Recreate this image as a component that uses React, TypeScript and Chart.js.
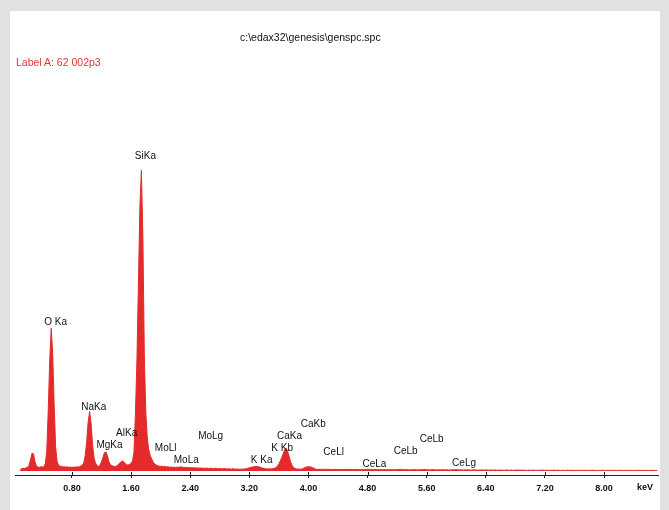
import React, { useEffect, useRef } from 'react';
import { Chart, registerables } from 'chart.js';

Chart.register(...registerables);

// Spectrum channels: uniform energy grid starting at CHANNEL_START_KEV
const CHANNEL_START_KEV = 0.1;
const CHANNEL_WIDTH_KEV = 0.02;

// Counts from 0.10 to 4.12 keV (rows of 0.2 keV)
const COUNTS_LOW = [
  8, 18, 22, 20, 26, 30, 48, 95, 150, 145,
  80, 42, 34, 30, 36, 33, 34, 60, 170, 520,
  950, 1215, 1000, 560, 200, 80, 48, 40, 38, 33,
  36, 31, 35, 30, 34, 29, 33, 30, 35, 32,
  36, 42, 48, 70, 130, 250, 420, 505, 400, 220,
  110, 65, 45, 38, 50, 75, 115, 155, 162, 130,
  80, 55, 45, 40, 38, 40, 50, 62, 75, 85,
  78, 62, 52, 50, 55, 62, 85, 160, 500, 950,
  1600, 2250, 2560, 2000, 980, 500, 280, 180, 130, 100,
  75, 60, 50, 45, 40, 38, 40, 36, 38, 33,
  35, 31, 34, 30, 33, 29, 32, 30, 34, 33,
  31, 28, 30, 27, 29, 26, 28, 25, 27, 24,
  26, 23, 25, 22, 24, 21, 24, 22, 20, 23,
  21, 19, 22, 20, 18, 21, 19, 17, 20, 18,
  16, 19, 17, 15, 18, 16, 14, 17, 15, 14,
  16, 15, 17, 19, 22, 26, 30, 33, 35, 37,
  38, 36, 33, 28, 24, 20, 18, 17, 16, 18,
  17, 19, 22, 28, 40, 60, 85, 115, 150, 180,
  193, 165, 120, 75, 45, 28, 20, 17, 15, 16,
  14, 18, 24, 30, 34, 36, 35, 32, 27, 20,
  15, 13,
];

// Counts from 4.14 to 8.72 keV (rows of 0.2 keV)
const COUNTS_HIGH = [
  13, 14, 12, 13, 15, 12, 14, 13, 11, 13,
  12, 14, 11, 13, 12, 10, 13, 12, 11, 14,
  12, 11, 13, 10, 12, 11, 13, 12, 10, 12,
  11, 13, 12, 14, 13, 12, 11, 10, 12, 11,
  10, 12, 11, 9, 12, 10, 11, 9, 12, 10,
  11, 9, 10, 12, 11, 13, 12, 10, 9, 11,
  10, 8, 11, 9, 10, 11, 9, 10, 8, 11,
  10, 12, 11, 9, 10, 8, 9, 11, 10, 8,
  9, 10, 8, 9, 11, 8, 10, 9, 7, 9,
  8, 10, 9, 11, 10, 8, 9, 7, 8, 9,
  7, 9, 8, 6, 8, 9, 7, 8, 6, 8,
  7, 8, 6, 9, 7, 5, 8, 7, 6, 8,
  7, 5, 8, 6, 7, 5, 6, 8, 6, 5,
  7, 6, 5, 7, 6, 8, 5, 6, 7, 5,
  6, 4, 7, 5, 6, 7, 5, 4, 6, 5,
  6, 5, 7, 4, 6, 5, 4, 6, 5, 7,
  5, 4, 6, 5, 3, 6, 5, 4, 6, 5,
  4, 6, 5, 3, 5, 4, 6, 5, 4, 5,
  6, 4, 5, 3, 4, 6, 5, 4, 3, 5,
  4, 5, 6, 4, 3, 5, 4, 6, 5, 4,
  5, 3, 4, 6, 4, 5, 3, 4, 5, 4,
  3, 5, 4, 3, 5, 4, 6, 4, 3, 5,
  4, 3, 5, 4, 3, 4, 5, 3, 4, 5,
];

// Energy axis
const AXIS_MIN_KEV = 0.03;
const AXIS_MAX_KEV = 8.73;
const TICK_KEV = [0.8, 1.6, 2.4, 3.2, 4.0, 4.8, 5.6, 6.4, 7.2, 8.0];
const AXIS_UNIT = 'keV';

// Line identification labels
const PEAK_NAMES = [
  'O Ka', 'NaKa', 'MgKa', 'AlKa', 'SiKa', 'MoLl', 'MoLa', 'MoLg', 'K Ka',
  'K Kb', 'CaKa', 'CaKb', 'CeLl', 'CeLa', 'CeLb', 'CeLb', 'CeLg',
];
const PEAK_KEV = [
  0.525, 1.041, 1.254, 1.487, 1.74, 2.015, 2.293, 2.623, 3.313,
  3.59, 3.691, 4.012, 4.287, 4.839, 5.262, 5.613, 6.052,
];
const PEAK_LABEL_COUNTS = [
  1265, 545, 218, 323, 2683, 190, 88, 294, 88,
  190, 294, 394, 162, 60, 167, 272, 68,
];

const FILE_NAME = 'c:\\edax32\\genesis\\genspc.spc';
const SPECTRUM_LABEL = 'Label A: 62 002p3';

const FONT = '"Liberation Sans", Arial, Helvetica, sans-serif';
const SPECTRUM_RED = '#e42a2a';

const peakLabelPlugin = {
  id: 'peakLabels',
  afterDraw(chart: any) {
    const { ctx, chartArea } = chart;
    const xs = chart.scales.x;
    const ys = chart.scales.y;
    ctx.save();

    // element names above their lines
    ctx.font = `10px ${FONT}`;
    ctx.fillStyle = '#111';
    ctx.textAlign = 'center';
    ctx.textBaseline = 'middle';
    PEAK_NAMES.forEach((name, i) => {
      ctx.fillText(name, xs.getPixelForValue(PEAK_KEV[i]) + 4, ys.getPixelForValue(PEAK_LABEL_COUNTS[i]));
    });

    // tick marks also rise slightly above the axis line
    ctx.strokeStyle = '#222';
    ctx.lineWidth = 1;
    ctx.beginPath();
    TICK_KEV.forEach((v) => {
      const px = Math.round(xs.getPixelForValue(v)) + 0.5;
      ctx.moveTo(px, chartArea.bottom - 3);
      ctx.lineTo(px, chartArea.bottom);
    });
    ctx.stroke();

    // unit at the right end of the axis
    ctx.font = `bold 9px ${FONT}`;
    ctx.textAlign = 'center';
    ctx.textBaseline = 'top';
    ctx.fillText(AXIS_UNIT, chartArea.right - 13, chartArea.bottom + 8);
    ctx.restore();
  },
};

export default function App() {
  const canvasRef = useRef<HTMLCanvasElement | null>(null);

  useEffect(() => {
    document.body.style.margin = '0';
    const canvas = canvasRef.current;
    if (!canvas) return;

    const counts = [...COUNTS_LOW, ...COUNTS_HIGH];
    const points = counts.map((c, i) => ({
      x: +(CHANNEL_START_KEV + i * CHANNEL_WIDTH_KEV).toFixed(2),
      y: c,
    }));

    const chart = new Chart(canvas, {
      type: 'line',
      data: {
        datasets: [
          {
            data: points,
            fill: 'origin',
            backgroundColor: SPECTRUM_RED,
            borderColor: SPECTRUM_RED,
            borderWidth: 1,
            pointRadius: 0,
            tension: 0,
          },
        ],
      },
      options: {
        animation: false,
        responsive: false,
        devicePixelRatio: 1,
        layout: { padding: { left: 15, right: 11, top: 100, bottom: 0 } },
        plugins: {
          legend: { display: false },
          tooltip: { enabled: false },
          title: { display: false },
        },
        scales: {
          x: {
            type: 'linear',
            min: AXIS_MIN_KEV,
            max: AXIS_MAX_KEV,
            afterBuildTicks: (scale: any) => {
              scale.ticks = TICK_KEV.map((v) => ({ value: v }));
            },
            afterFit: (scale: any) => {
              scale.height = 35;
            },
            border: { display: true, color: '#222', width: 1 },
            grid: {
              display: true,
              drawOnChartArea: false,
              drawTicks: true,
              tickLength: 3,
              color: '#222',
            },
            ticks: {
              padding: 5,
              color: '#111',
              autoSkip: false,
              maxRotation: 0,
              font: { family: FONT, size: 9, weight: 'bold' },
              callback: (v: any) => Number(v).toFixed(2),
            },
          },
          y: { display: false, min: -35, max: 3160 },
        },
      },
      plugins: [peakLabelPlugin],
    } as any);

    return () => chart.destroy();
  }, []);

  return (
    <div
      style={{
        position: 'fixed',
        left: 0,
        top: 0,
        width: 669,
        height: 510,
        background: '#e1e1e1',
        overflow: 'hidden',
      }}
    >
      <div style={{ position: 'absolute', left: 10, top: 11, width: 650, height: 499, background: '#ffffff' }} />
      <canvas
        ref={canvasRef}
        width={669}
        height={510}
        style={{ position: 'absolute', left: 0, top: 0, width: 669, height: 510 }}
      />
      <div
        style={{
          position: 'absolute',
          left: 240,
          top: 31,
          font: `10.5px ${FONT}`,
          lineHeight: '12px',
          color: '#111',
          whiteSpace: 'pre',
        }}
      >
        {FILE_NAME}
      </div>
      <div
        style={{
          position: 'absolute',
          left: 16,
          top: 56,
          font: `10.5px ${FONT}`,
          lineHeight: '12px',
          color: '#e03535',
          whiteSpace: 'pre',
        }}
      >
        {SPECTRUM_LABEL}
      </div>
    </div>
  );
}
